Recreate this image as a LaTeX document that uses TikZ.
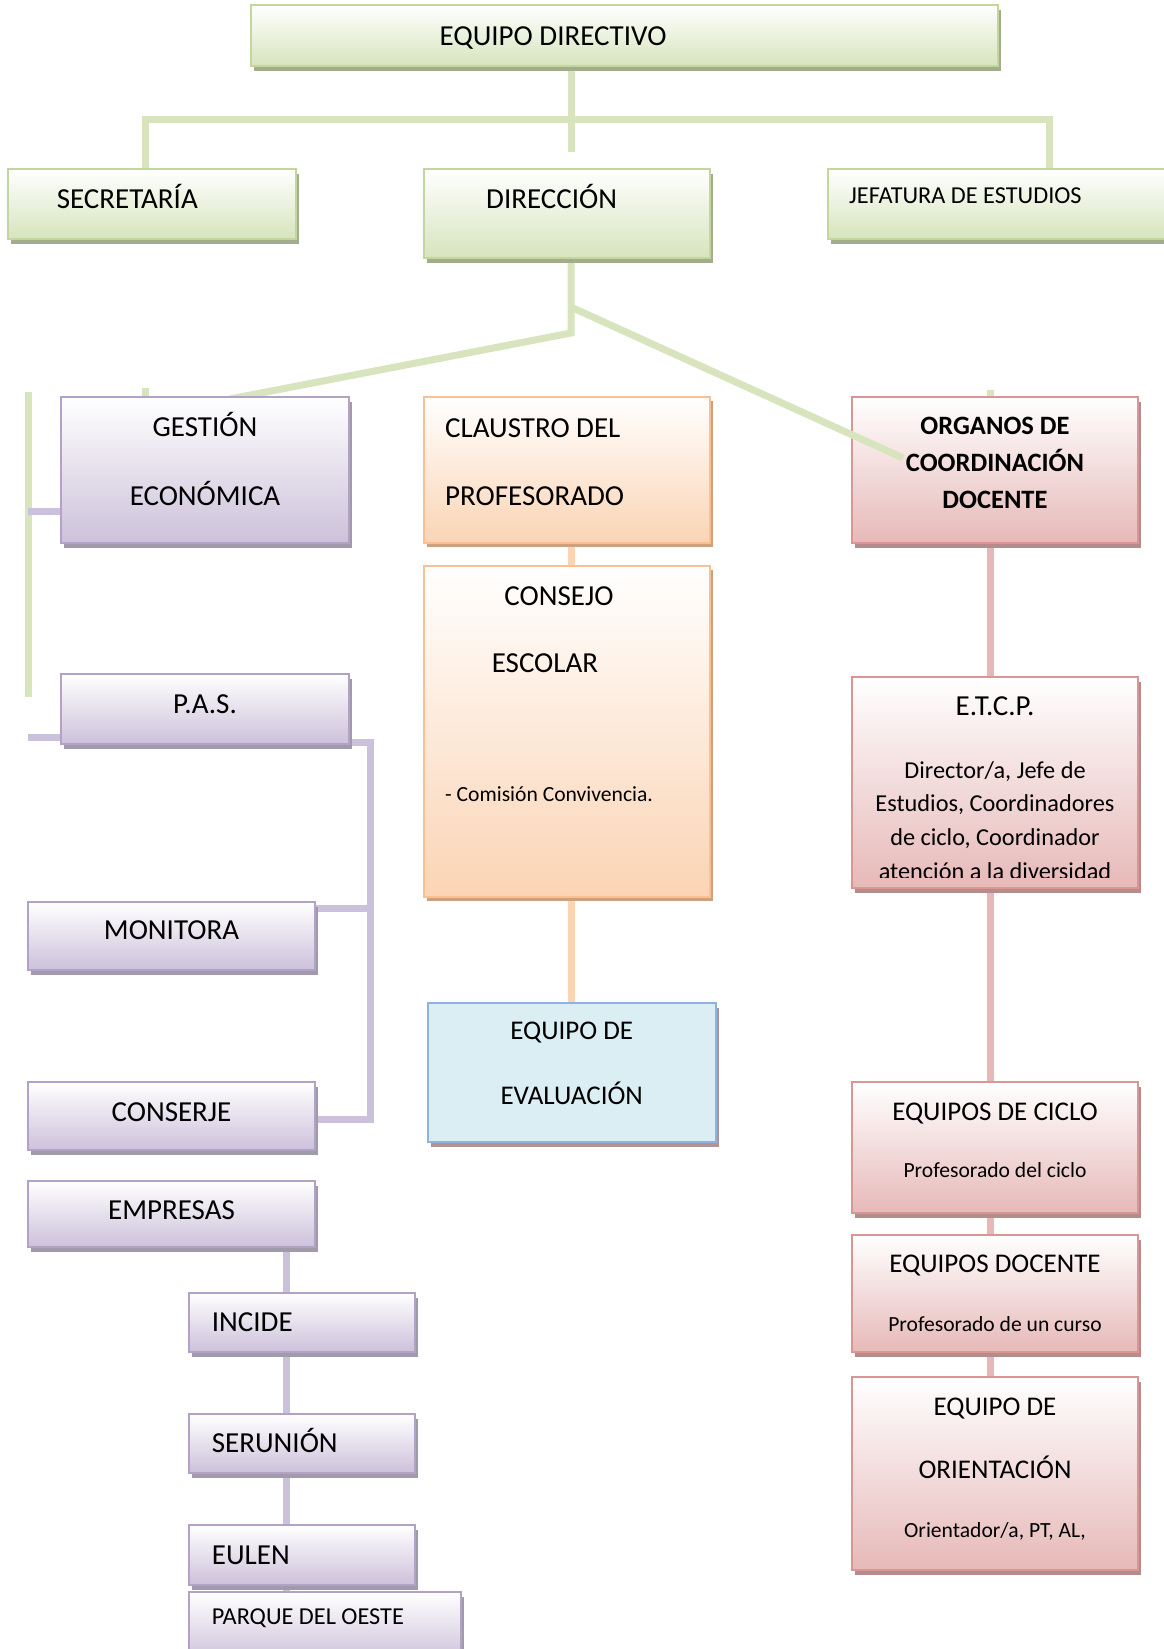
\documentclass[tikz,border=0pt]{standalone}
\usepackage{fontspec}
\setmainfont{Carlito}
\usetikzlibrary{shadows}
\definecolor{gfill}{HTML}{D7E4BD}
\definecolor{gborder}{HTML}{C3D69B}
\definecolor{gshadow}{HTML}{A3AD8E}
\definecolor{pfill}{HTML}{CCC1DA}
\definecolor{pborder}{HTML}{B3A2C7}
\definecolor{pshadow}{HTML}{A09AAA}
\definecolor{ofill}{HTML}{FBD4B4}
\definecolor{oborder}{HTML}{FAC090}
\definecolor{oshadow}{HTML}{CFA07C}
\definecolor{rfill}{HTML}{E6B9B8}
\definecolor{rborder}{HTML}{D99694}
\definecolor{rshadow}{HTML}{B48C8B}
\definecolor{bfill}{HTML}{DAEEF3}
\definecolor{bborder}{HTML}{8DB3E2}
\definecolor{bshadow}{HTML}{B09494}
\newcommand\fsz[1]{\fontsize{#1pt}{#1pt}\selectfont}
\begin{document}
\begin{tikzpicture}[x=1pt,y=-1pt,
  box/.style={rectangle, inner sep=0pt, outer sep=0pt, anchor=north west, line width=2.5pt},
  gbox/.style={box, draw=gborder, top color=white, bottom color=gfill,
    drop shadow={shadow xshift=3pt, shadow yshift=-5pt, fill=gshadow, opacity=1}},
  pbox/.style={box, draw=pborder, top color=white, bottom color=pfill,
    drop shadow={shadow xshift=3pt, shadow yshift=-5pt, fill=pshadow, opacity=1}},
  obox/.style={box, draw=oborder, top color=white, bottom color=ofill,
    drop shadow={shadow xshift=3pt, shadow yshift=-4pt, fill=oshadow, opacity=1}},
  rbox/.style={box, draw=rborder, top color=white, bottom color=rfill,
    drop shadow={shadow xshift=3pt, shadow yshift=-5pt, fill=rshadow, opacity=1}},
  bbox/.style={box, draw=bborder, fill=bfill,
    drop shadow={shadow xshift=3pt, shadow yshift=-5pt, fill=bshadow, opacity=1}},
  conn/.style={line width=7pt},
  gline/.style={conn, draw=gfill},
  pline/.style={conn, draw=pfill},
  oline/.style={conn, draw=ofill},
  rline/.style={conn, draw=rfill},
  txt/.style={inner sep=0pt, anchor=base, font=\fsz{29}},
  txtl/.style={inner sep=0pt, anchor=base west, font=\fsz{29}},
  txts/.style={font=\fsz{27}},
  small/.style={font=\fsz{21.6}},
  mid/.style={font=\fsz{24.3}},
  bold/.style={font=\fsz{26.5}\bfseries}
]
\clip (0,0) rectangle (1164,1649);
\fill[white] (0,0) rectangle (1164,1649);

% ---------- coordinates for connectors ----------
\coordinate (c1) at (571,152);
\coordinate (hl) at (145,119.5);
\coordinate (hr) at (1049.5,119.5);
\coordinate (dk) at (571,333);
\coordinate (gtop) at (230,399);
\coordinate (dd) at (573,308);
\coordinate (de) at (903,458);
\coordinate (gs) at (145,388);
\coordinate (os) at (990,390);
\coordinate (lv1) at (28.5,392);
\coordinate (lv2) at (28.5,697);
\coordinate (lp1) at (28,511.5);
\coordinate (lp2) at (28,737);
\coordinate (pv1) at (370,742.5);
\coordinate (pv2) at (370,1119);
\coordinate (pv3) at (370,908);
\coordinate (xk) at (286,0);
\coordinate (xo) at (571,0);
\coordinate (xr) at (990,0);

% ---------- box frames (named anchors for the connectors) ----------
\path
  (251,5) node[box, minimum width=747pt, minimum height=61pt] (eq) {}
  (8,169) node[box, minimum width=288pt, minimum height=70pt] (sec) {}
  (424,169) node[box, minimum width=286pt, minimum height=89pt] (dir) {}
  (828,169) node[box, minimum width=345pt, minimum height=70pt] (jef) {}
  (61,397) node[box, minimum width=288pt, minimum height=146pt] (ges) {}
  (61,674) node[box, minimum width=288pt, minimum height=70pt] (pas) {}
  (28,902) node[box, minimum width=287pt, minimum height=68pt] (mon) {}
  (28,1082) node[box, minimum width=287pt, minimum height=68pt] (con) {}
  (28,1181) node[box, minimum width=287pt, minimum height=66pt] (emp) {}
  (189,1293) node[box, minimum width=226pt, minimum height=59pt] (inc) {}
  (189,1414) node[box, minimum width=226pt, minimum height=59pt] (ser) {}
  (189,1525) node[box, minimum width=226pt, minimum height=60pt] (eul) {}
  (189,1592) node[box, minimum width=272pt, minimum height=70pt] (par) {}
  (424,397) node[box, minimum width=286pt, minimum height=146pt] (cla) {}
  (424,566) node[box, minimum width=286pt, minimum height=331pt] (cse) {}
  (428,1003) node[box, minimum width=288pt, minimum height=139pt] (eva) {}
  (852,397) node[box, minimum width=286pt, minimum height=146pt] (org) {}
  (852,677) node[box, minimum width=286pt, minimum height=211pt] (etc) {}
  (852,1082) node[box, minimum width=286pt, minimum height=131pt] (cic) {}
  (852,1235) node[box, minimum width=286pt, minimum height=117pt] (doc) {}
  (852,1377) node[box, minimum width=286pt, minimum height=193pt] (ori) {};

% ---------- connectors ----------
\draw[gline] (eq.south -| c1) -- (c1);
\draw[gline] (hl |- sec.north) -- (hl) -- (hr) -- (hr |- jef.north);
\draw[gline] (dir.south -| dk) -- (dk) -- (gtop);
\draw[gline] (gs) -- (gs |- ges.north);
\draw[gline] (os) -- (os |- org.north);
\draw[gline] (lv1) -- (lv2);
\draw[pline] (lp1) -- (lp1 -| ges.west);
\draw[pline] (lp2) -- (lp2 -| pas.west);
\draw[pline] (pv1 -| pas.east) -- (pv1) -- (pv2) -- (pv2 -| con.east);
\draw[pline] (pv3 -| mon.east) -- (pv3);
\draw[pline] (emp.south -| xk) -- (inc.north -| xk);
\draw[pline] (inc.south -| xk) -- (ser.north -| xk);
\draw[pline] (ser.south -| xk) -- (eul.north -| xk);
\draw[pline] (eul.south -| xk) -- (par.north -| xk);
\draw[oline] (cla.south -| xo) -- (cse.north -| xo);
\draw[oline] (cse.south -| xo) -- (eva.north -| xo);
\draw[rline] (org.south -| xr) -- (etc.north -| xr);
\draw[rline] (etc.south -| xr) -- (cic.north -| xr);
\draw[rline] (cic.south -| xr) -- (doc.north -| xr);
\draw[rline] (doc.south -| xr) -- (ori.north -| xr);

% ---------- visible boxes ----------
\path
  (eq.north west) node[gbox, minimum width=747pt, minimum height=61pt] (eqB) {}
  (sec.north west) node[gbox, minimum width=288pt, minimum height=70pt] (secB) {}
  (dir.north west) node[gbox, minimum width=286pt, minimum height=89pt] (dirB) {}
  (jef.north west) node[gbox, minimum width=345pt, minimum height=70pt] (jefB) {}
  (ges.north west) node[pbox, minimum width=288pt, minimum height=146pt] (gesB) {}
  (pas.north west) node[pbox, minimum width=288pt, minimum height=70pt] (pasB) {}
  (mon.north west) node[pbox, minimum width=287pt, minimum height=68pt] (monB) {}
  (con.north west) node[pbox, minimum width=287pt, minimum height=68pt] (conB) {}
  (emp.north west) node[pbox, minimum width=287pt, minimum height=66pt] (empB) {}
  (inc.north west) node[pbox, minimum width=226pt, minimum height=59pt] (incB) {}
  (ser.north west) node[pbox, minimum width=226pt, minimum height=59pt] (serB) {}
  (eul.north west) node[pbox, minimum width=226pt, minimum height=60pt] (eulB) {}
  (par.north west) node[pbox, minimum width=272pt, minimum height=70pt] (parB) {}
  (cla.north west) node[obox, minimum width=286pt, minimum height=146pt] (claB) {}
  (cse.north west) node[obox, minimum width=286pt, minimum height=331pt] (cseB) {}
  (eva.north west) node[bbox, minimum width=288pt, minimum height=139pt] (evaB) {}
  (org.north west) node[rbox, minimum width=286pt, minimum height=146pt] (orgB) {}
  (etc.north west) node[rbox, minimum width=286pt, minimum height=211pt] (etcB) {}
  (cic.north west) node[rbox, minimum width=286pt, minimum height=131pt] (cicB) {}
  (doc.north west) node[rbox, minimum width=286pt, minimum height=117pt] (docB) {}
  (ori.north west) node[rbox, minimum width=286pt, minimum height=193pt] (oriB) {};

% diagonal drawn over the ORGANOS box
\draw[gline] (dd) -- (de);

% ---------- texts ----------
\node[txt] (t1) at (553,45) {EQUIPO DIRECTIVO};
\node[txtl] (t2) at (56.6,208) {SECRETARÍA};
\node[txtl] (t3) at (486,208) {DIRECCIÓN};
\node[txtl, mid] (t4) at (849,203) {JEFATURA DE ESTUDIOS};

\node[txt] (t5) at (205,436.7) {GESTIÓN};
\node[txt] (t6) at (205,505) {ECONÓMICA};
\node[txt] (t7) at (205,713) {P.A.S.};
\node[txt] (t8) at (171.5,939.8) {MONITORA};
\node[txt] (t9) at (171.5,1121.3) {CONSERJE};
\node[txt] (t10) at (171.5,1219.4) {EMPRESAS};
\node[txtl] (t11) at (211.7,1331.2) {INCIDE};
\node[txtl] (t12) at (211.7,1452.8) {SERUNIÓN};
\node[txtl] (t13) at (211.7,1564) {EULEN};
\node[txtl, mid] (t14) at (211.7,1624.5) {PARQUE DEL OESTE};

\node[txtl] (t15) at (445,437.3) {CLAUSTRO DEL};
\node[txtl] (t16) at (445,505) {PROFESORADO};
\node[txt] (t17) at (559,605) {CONSEJO};
\node[txt] (t18) at (545,672.7) {ESCOLAR};
\node[txtl, small] (t19) at (445,801) {- Comisión Convivencia.};
\node[txt, txts] (t20) at (571.7,1039) {EQUIPO DE};
\node[txt, txts] (t21) at (571.7,1104) {EVALUACIÓN};

\node[txt, bold] (t22) at (995,434) {ORGANOS DE};
\node[txt, bold] (t23) at (995,471.7) {COORDINACIÓN};
\node[txt, bold] (t24) at (995,508.3) {DOCENTE};
\node[txt] (t25) at (995,715) {E.T.C.P.};
\node[txt, mid] (t26) at (995,778.3) {Director/a, Jefe de};
\node[txt, mid] (t27) at (995,811) {Estudios, Coordinadores};
\node[txt, mid] (t28) at (995,845) {de ciclo, Coordinador};
\begin{scope}
  \clip (852,677) rectangle (1138,877);
  \node[txt, mid] (t29) at (995,879) {atención a la diversidad};
\end{scope}
\node[txt, txts] (t30) at (995,1120) {EQUIPOS DE CICLO};
\node[txt, small] (t31) at (995,1177) {Profesorado del ciclo};
\node[txt, txts] (t32) at (995,1272.3) {EQUIPOS DOCENTE};
\node[txt, small] (t33) at (995,1331) {Profesorado de un curso};
\node[txt, txts] (t34) at (995,1415.5) {EQUIPO DE};
\node[txt, txts] (t35) at (995,1478.6) {ORIENTACIÓN};
\node[txt, small] (t36) at (995,1537.8) {Orientador/a, PT, AL,};
\end{tikzpicture}
\end{document}
